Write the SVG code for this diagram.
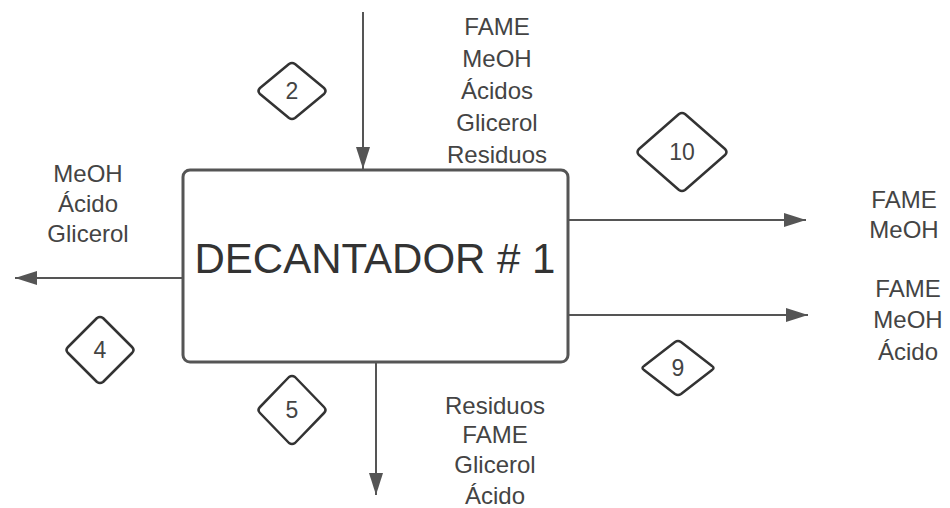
<svg xmlns="http://www.w3.org/2000/svg" width="950" height="508" viewBox="0 0 950 508">
<defs>
<style>
.lbl{font-family:"Liberation Sans",Arial,sans-serif;font-size:24px;fill:#444;text-anchor:middle}
.num{font-family:"Liberation Sans",Arial,sans-serif;font-size:23px;fill:#444;text-anchor:middle}
.dia{fill:#fff;stroke:#333;stroke-width:2.5;stroke-linejoin:round}
.box{fill:#fff;stroke:#555;stroke-width:3}
.edge{stroke:#555;stroke-width:2;fill:none;marker-end:url(#arr)}
.title{font-family:"Liberation Sans",Arial,sans-serif;font-size:42px;fill:#333;text-anchor:middle}
</style>
<marker id="arr" viewBox="0 0 22 14" refX="22" refY="7" markerWidth="22" markerHeight="14" markerUnits="userSpaceOnUse" orient="auto">
<path d="M0,0 L22,7 L0,14 Z" fill="#555"/>
</marker>
</defs>
<rect width="950" height="508" fill="#fff"/>
<g id="connectors">
<line class="edge" x1="363" y1="12" x2="363" y2="169"/>
<line class="edge" x1="183" y1="278" x2="15" y2="278"/>
<line class="edge" x1="568" y1="220" x2="806" y2="220"/>
<line class="edge" x1="568" y1="315" x2="808" y2="315"/>
<line class="edge" x1="376" y1="362" x2="376" y2="495"/>
</g>
<g id="decantador">
<rect class="box" x="183" y="170" width="385" height="192" rx="7"/>
<text class="title" x="375" y="273">DECANTADOR # 1</text>
</g>
<g id="label-in">
<text class="lbl" x="497" y="35">FAME</text>
<text class="lbl" x="497" y="67">MeOH</text>
<text class="lbl" x="497" y="99">Ácidos</text>
<text class="lbl" x="497" y="131">Glicerol</text>
<text class="lbl" x="497" y="163">Residuos</text>
</g>
<g id="label-left">
<text class="lbl" x="88" y="182">MeOH</text>
<text class="lbl" x="88" y="212">Ácido</text>
<text class="lbl" x="88" y="242">Glicerol</text>
</g>
<g id="label-right-top">
<text class="lbl" x="904" y="208">FAME</text>
<text class="lbl" x="904" y="238">MeOH</text>
</g>
<g id="label-right-bottom">
<text class="lbl" x="908" y="297">FAME</text>
<text class="lbl" x="908" y="328">MeOH</text>
<text class="lbl" x="908" y="360">Ácido</text>
</g>
<g id="label-bottom">
<text class="lbl" x="495" y="414">Residuos</text>
<text class="lbl" x="495" y="443">FAME</text>
<text class="lbl" x="495" y="473">Glicerol</text>
<text class="lbl" x="495" y="504">Ácido</text>
</g>
<g id="stream-2">
<path class="dia" d="M289,64 Q292,62 295,64 L324,88 Q327,91 324,94 L295,118 Q292,120 289,118 L260,94 Q257,91 260,88 Z"/>
<text class="num" x="292" y="99">2</text>
</g>
<g id="stream-4">
<path class="dia" d="M97,318 Q100,316 103,318 L132,347 Q135,350 132,353 L103,382 Q100,384 97,382 L68,353 Q65,350 68,347 Z"/>
<text class="num" x="100" y="358">4</text>
</g>
<g id="stream-5">
<path class="dia" d="M289,377 Q292,375 295,377 L324,407 Q327,410 324,413 L295,443 Q292,445 289,443 L260,413 Q257,410 260,407 Z"/>
<text class="num" x="292" y="418">5</text>
</g>
<g id="stream-10">
<path class="dia" d="M679,114 Q682,112 685,114 L725,149 Q728,152 725,155 L685,190 Q682,192 679,190 L639,155 Q636,152 639,149 Z"/>
<text class="num" x="682" y="160">10</text>
</g>
<g id="stream-9">
<path class="dia" d="M675,342 Q678,340 681,342 L712,366 Q715,368 712,370 L681,394 Q678,396 675,394 L644,370 Q641,368 644,366 Z"/>
<text class="num" x="678" y="376">9</text>
</g>
</svg>
